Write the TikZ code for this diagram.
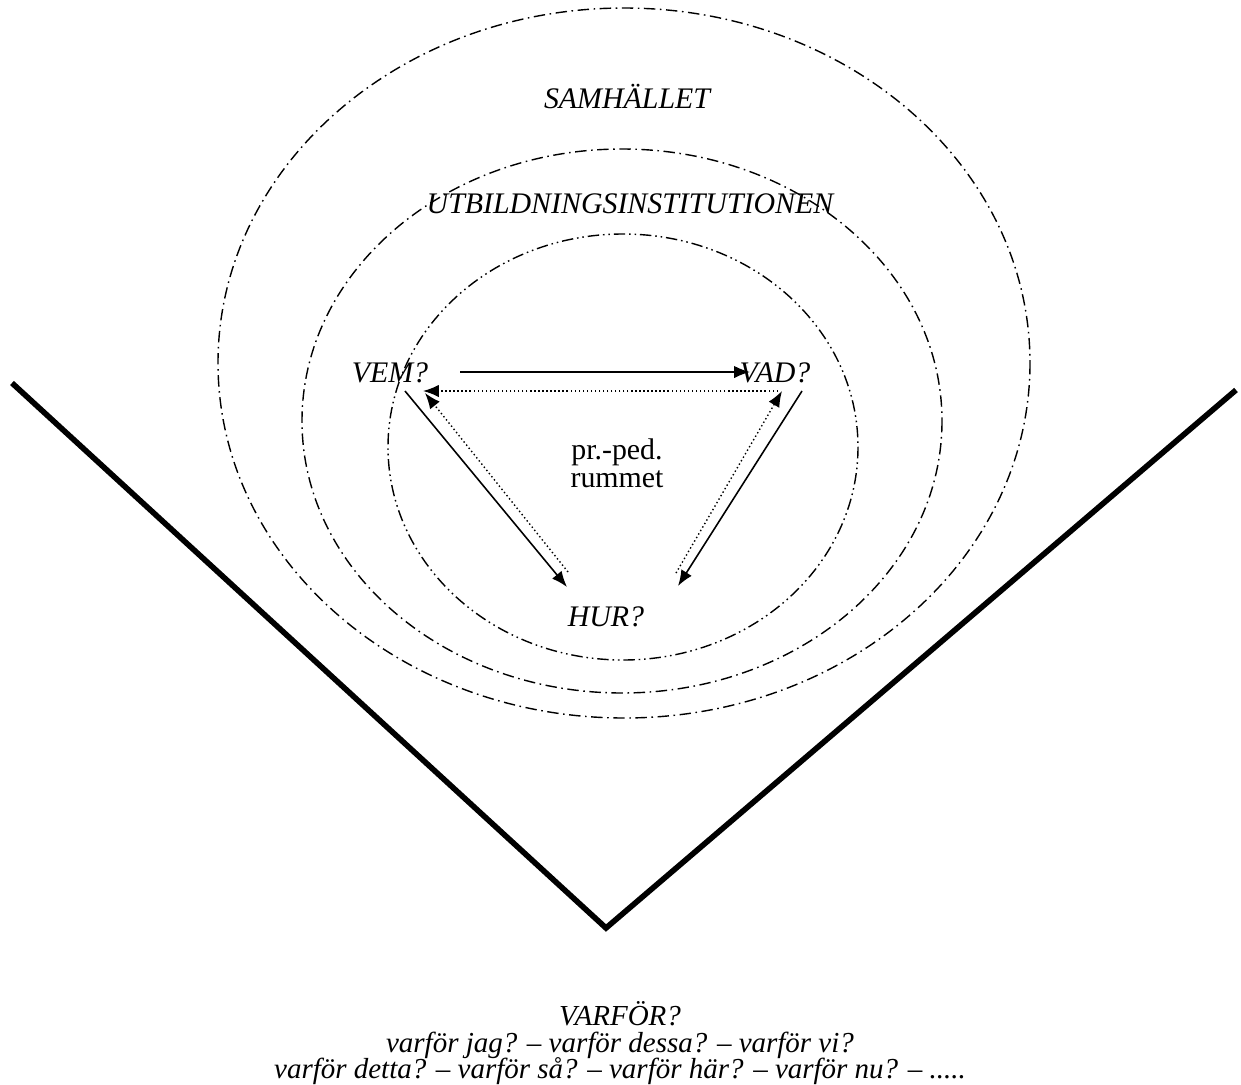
\documentclass[tikz,border=0pt]{standalone}
\usepackage{fontspec}
\setmainfont{Liberation Serif}
\usepackage{tikz}
\usetikzlibrary{positioning,arrows,arrows.meta}
\newcommand{\tightlines}{\lineskiplimit=-100pt\relax}
\tikzset{ring/.style={line width=0.8pt,dash pattern=on 6.5pt off 2.6pt on 0.9pt off 2.6pt}}
\tikzset{ringdd/.style={line width=0.8pt,dash pattern=on 6.5pt off 2.2pt on 0.9pt off 2.2pt on 0.9pt off 2.2pt}}
\tikzset{vline/.style={line width=3.2pt}}
\tikzset{solidarrow/.style={-{Latex[length=9pt,width=7pt]},line width=0.9pt}}
\tikzset{dotarrow/.style={-{Latex[length=9pt,width=7pt]},line width=0.8pt,dash pattern=on 0.8pt off 1.5pt}}
\tikzset{lbl/.style={font=\fontsize{17}{14.6}\selectfont\itshape\tightlines,anchor=base,inner sep=0pt}}
\tikzset{txt/.style={font=\fontsize{17}{15.9}\selectfont\tightlines,align=center,inner sep=0pt}}

\begin{document}
\begin{tikzpicture}[x=0.02cm,y=-0.02cm]

	%% frame
	\useasboundingbox (0,0) rectangle (1241,1085);
	%%

	%% the three rings
	\draw[ring] (624,363) ellipse [x radius=406, y radius=355];
	\draw[ring] (622,421) ellipse [x radius=320, y radius=272];
	\draw[ringdd] (623,447) ellipse [x radius=235, y radius=213];

	%% the V
	\coordinate (vleft) at (12,383);
	\coordinate (vtip) at (606,928);
	\coordinate (vright) at (1236,390);
	\draw[vline] (vleft) -- (vtip) -- (vright);

	%% labels
	\node[lbl] (samh) at (627,108) {SAMHÄLLET};
	\node[lbl] (utb) at (630,213) {UTBILDNINGSINSTITUTIONEN};
	\node[lbl] (vem) at (390,382) {VEM?};
	\node[lbl] (vad) at (775,382) {VAD?};
	\node[lbl] (hur) at (606,626) {HUR?};
	\node[txt] (rum) at (617,463) {pr.-ped.\\rummet};

	%% arrow ends
	\coordinate (vemR) at (460,372);
	\coordinate (vadL) at (750,372);
	\coordinate (vadD) at (778,391);
	\coordinate (vemD) at (423,391);
	\coordinate (vemS) at (405,391);
	\coordinate (hurL) at (567,587);
	\coordinate (hurLd) at (568,572);
	\coordinate (vemSd) at (425,393);
	\coordinate (vadS) at (802,391);
	\coordinate (hurR) at (678,586);
	\coordinate (hurRd) at (676,573);
	\coordinate (vadSd) at (782,391);

	\draw[solidarrow] (vemR) -- (vadL);
	\draw[dotarrow] (vadD) -- (vemD);
	\draw[solidarrow] (vemS) -- (hurL);
	\draw[dotarrow] (hurLd) -- (vemSd);
	\draw[solidarrow] (vadS) -- (hurR);
	\draw[dotarrow] (hurRd) -- (vadSd);

	%% bottom text
	\node[lbl,font=\fontsize{16.5}{15}\selectfont\itshape\tightlines,align=center,anchor=south] (varfor) at (620,1085)
		{VARFÖR?\\varför jag? – varför dessa? – varför vi?\\varför detta? – varför så? – varför här? – varför nu? – .....};

\end{tikzpicture}
\end{document}
